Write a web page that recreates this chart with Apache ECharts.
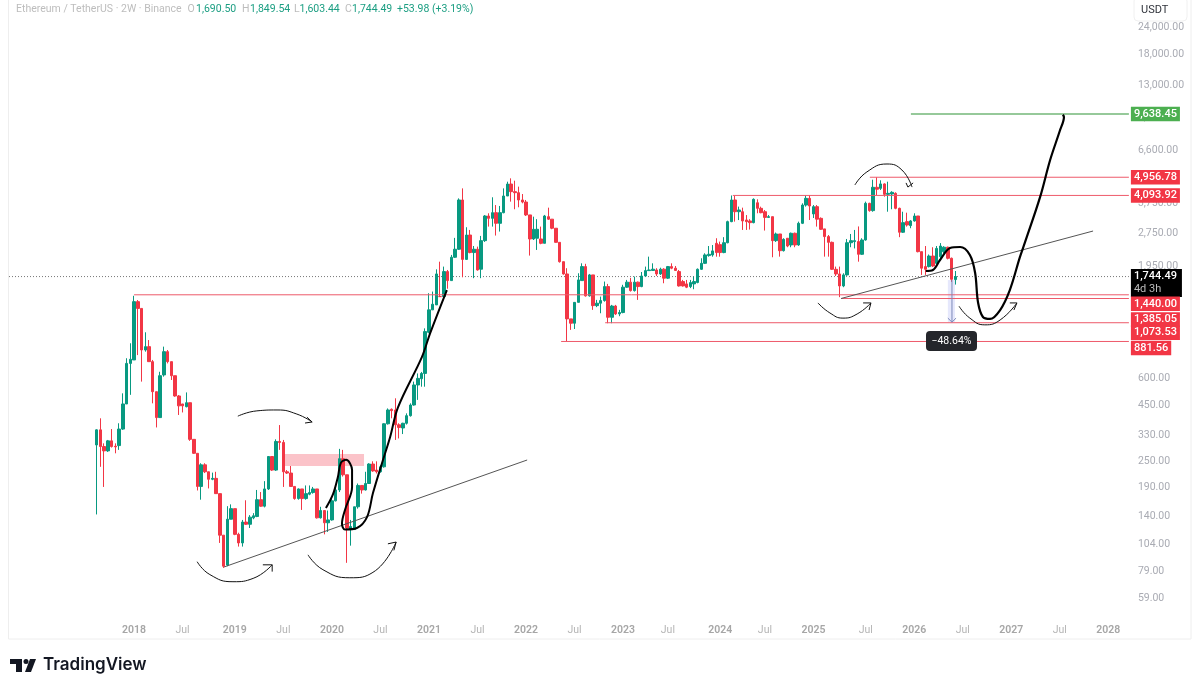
<!DOCTYPE html>
<html><head><meta charset="utf-8">
<style>html,body{margin:0;padding:0;background:#fff}#c{width:1200px;height:691px}</style>
<script src="https://cdn.jsdelivr.net/npm/echarts@6/dist/echarts.min.js"></script>
</head><body><div id="c"></div>
<script>
const opens=[297,348,292,279,310,293,295,351,457,700,726,1340,1248,806,835,713,520,396,620,792,713,615,497,457,444,463,315,272,192,241,224,207,209,178,115,84,136,152,116,106,132,129,138,140,167,156,187,263,228,308,305,224,221,192,169,187,169,177,180,187,138,149,131,135,165,185,257,217,122,122,155,194,185,198,243,228,224,236,371,432,429,367,355,373,404,452,558,596,630,971,1229,1295,1413,1413,1838,1672,2137,2325,3903,2090,2700,2245,2325,1885,2545,3298,3218,3415,3054,3415,4070,4615,4260,4215,3903,3820,3335,2590,2610,2590,2475,3275,3190,2900,2500,2040,1793,1118,1068,1330,1672,1937,1424,1775,1285,1318,1355,1570,1137,1280,1178,1195,1560,1645,1505,1645,1570,1755,1857,1860,1870,1793,1885,1715,1937,1905,1838,1655,1615,1570,1615,1640,1883,2005,2175,2190,2475,2440,2245,2490,3108,3903,3450,3450,3163,3130,3075,3790,3575,3450,3250,3275,2545,2730,2290,2610,2432,2750,2432,3054,3700,3970,3370,3638,3218,2880,2655,2500,1883,1793,1581,1775,2490,2520,2520,2205,2563,3768,3490,4460,4410,4620,4140,4155,4185,3575,2780,3108,2980,3130,3298,2267,1937,1937,2165,2005,2151,2267,2375,2114,1690.5];
const closes=[348,292,279,310,292,291,351,457,700,731,1340,1248,806,835,713,520,396,615,792,713,615,497,448,448,463,315,272,192,241,224,207,209,178,115,83,136,152,116,106,132,129,139,141,167,156,187,263,228,308,305,224,221,192,169,187,169,178,180,187,138,149,131,135,165,185,257,217,124,126,155,194,185,198,243,226,224,236,371,429,426,367,357,373,404,452,558,598,630,978,1229,1304,1793,1413,1838,1672,2137,2325,3903,2090,2700,2245,2325,1870,2545,3298,3218,3415,3054,3415,4070,4615,4260,4215,3903,3820,3335,2590,2868,2868,2475,3298,3190,2900,2500,2040,1793,1118,1068,1330,1684,1937,1424,1775,1285,1318,1355,1570,1137,1280,1178,1195,1560,1645,1505,1645,1570,1755,1857,1870,1885,1793,1885,1715,1937,1905,1860,1581,1581,1560,1637,1655,1883,2005,2190,2205,2285,2245,2245,2490,3108,3903,3450,3513,3130,3108,3075,3930,3575,3415,3250,3275,2545,2730,2290,2580,2405,2750,2432,3054,3700,3970,3665,3638,3190,2868,2655,2500,1883,1793,1581,1775,2490,2545,2545,2205,2563,3768,3490,4460,4370,4620,4140,4185,4230,3575,2780,3075,3000,3130,3298,2267,1905,1883,2165,1950,2345,2405,2375,2114,1695,1744.49];
const lows=[143,236,191,276,289,272,282,348,457,503,726,764,578,792,713,460,357,396,609,700,588,493,407,418,441,310,270,184,167,221,188,205,178,106,81.5,83,136,115,102,102,128,124,136,139,155,154,185,226,226,282,191,219,191,167,167,150,167,175,178,137,137,116,119,134,164,181,213,86,103,122,152,178,184,197,224,220,222,234,368,393,313,318,333,368,400,449,477,548,548,961,1229,1295,1413,1400,1535,1672,2120,2308,1732,2077,2228,1715,1857,1715,2510,2950,2950,2685,2800,3393,4070,3835,3540,3615,3768,3298,2175,2563,2308,2450,2475,3165,2870,2490,2020,1780,882,996,1005,1330,1672,1413,1413,1229,1265,1186,1340,1068,1068,1165,1150,1186,1550,1490,1490,1365,1560,1745,1857,1850,1755,1775,1626,1700,1885,1850,1570,1570,1545,1545,1527,1625,1870,1990,2150,2150,2150,2150,2230,2475,3090,3108,3160,2848,2848,2860,3054,3393,3393,2830,3230,2137,2510,2151,2270,2375,2375,2375,2410,3030,3640,3163,3230,2950,2848,2151,2151,1870,1755,1405,1560,1760,2375,2345,2040,2190,2545,3450,3450,4110,4335,4040,3450,3540,3540,2640,2760,2950,2900,3108,2250,1775,1775,1920,1930,1990,2100,2230,2090,1650,1603.44];
const highs=[350,393,302,313,351,302,373,511,739,865,1425,1363,1248,971,895,726,520,641,835,806,713,615,502,452,516,463,315,272,245,245,224,222,224,178,115,156,159,152,118,135,166,142,145,185,181,203,263,263,315,366,313,228,238,192,188,187,194,194,191,187,155,149,149,170,194,285,282,217,135,155,198,194,224,245,250,250,240,373,436,436,485,373,375,414,460,578,630,640,1012,1464,1490,1882,2040,1937,1870,2190,2620,3970,4410,2930,2848,2405,2390,2675,3330,3393,4015,3700,3665,4410,4730,4900,4780,4490,4155,3903,3335,3275,3190,2950,3335,3600,3190,2900,2500,2040,1905,1118,1335,1806,2005,1995,1793,1775,1365,1413,1655,1615,1295,1295,1229,1600,1684,1720,1744,1655,1830,1937,2151,2005,1905,1915,1905,1950,2005,1950,1870,1684,1684,1684,1744,1900,2114,2228,2405,2430,2610,2520,2640,3140,4093,4080,3640,3600,3330,3190,3970,3930,3638,3513,3330,3275,2770,2730,2610,2610,2770,2770,3108,3768,4093,4110,3700,3700,3250,2880,2700,2520,1937,1937,1806,2590,2730,2848,2955,2610,3835,3790,4830,4956.78,4800,4650,4730,4280,4230,3600,3450,3415,3160,3393,3298,2267,2405,2200,2375,2405,2480,2400,2390,2130,1849.54];

const xTickLabels=['2018','Jul','2019','Jul','2020','Jul','2021','Jul','2022','Jul','2023','Jul','2024','Jul','2025','Jul','2026','Jul','2027','Jul','2028'];
const xTickBars=[33,46,60,73,86,99,112,125,138,151,164,176,190,202,215,229,242,255,268,281,294];
const yTicks=[59,79,104,140,190,250,330,450,600,810,1050,1440,1950,2750,3750,5000,6600,9300,13000,18000,24000];

const levelNames=['9,638.45','4,956.78','4,093.92','1,440.00','1,385.05','1,073.53','881.56'];
const levelPrices=[9638.45,4956.78,4093.92,1440,1385.05,1073.53,881.56];
const levelStarts=[241.6,230.6,193.9,33.5,222.9,159.7,147.9];
const levelTagShift=[0,0,0,9,21,10,6.5];
const lastPrice=1744.49;

const trendLeft=[[57.6,82.3],[138.8,253.5]];
const trendRight=[[222.9,1385],[290.4,2816]];
const strokeLeft=[[84.9,153],[86.8,177],[88.1,212],[88.9,246],[90.3,254],[91.9,228],[91.9,191],[90,150],[89.2,130],[90,122],[93.2,124],[95.9,139],[97.5,179],[100.2,254],[102.1,323],[104.2,441],[110.6,748],[112.8,960],[117.3,1514]];
const strokeRight=[[245.6,1850],[247.5,1870],[249.4,2077],[252.1,2355],[254.8,2380],[257.4,2190],[258.8,1815],[259.6,1325],[260.9,1140],[262.8,1117],[265.5,1227],[268.1,1514],[270.8,2140],[272.2,2510],[276.2,4020],[278.9,5942],[281.5,8080],[282.6,9340],[282.3,9560]];
const arcs=[
 [[50.4,87],[53.8,76],[60,70.5],[65.4,73],[70.5,84.2]],
 [[61.3,402],[66.4,425],[71.8,429],[77.1,411],[81.2,378]],
 [[80.1,93.5],[84.1,80],[91.3,73.5],[97.5,77.8],[103.7,107]],
 [[216.7,1322],[219.9,1190],[223.4,1127],[227.2,1177],[230.9,1322]],
 [[226.6,4570],[229.8,5240],[235.2,5698],[239.2,5349],[241.9,4470]],
 [[254.5,1277],[257.4,1127],[261.4,1050],[265.5,1105],[270,1322]]
];
const arcHeads=[
 [[68,84.2],[70.5,84.2],[70.5,78.4]],
 [[79.8,398],[81.2,378],[79.3,374]],
 [[101.5,105],[103.7,107],[103.1,98]],
 [[228.8,1322],[230.9,1322],[230.4,1227]],
 [[240.3,4670],[240.8,4470],[242.2,4670]],
 [[268.1,1322],[270,1322],[269.2,1227]]
];
const zoneBars=[73.4,95.1];
const zonePrices=[270,238];
const measureBars=[251.5,253.4];
const measurePrices=[1682,1080];
const measureArrow=[[252.6,1682],[252.6,1080]];
const measureHead=[[251.5,1127],[252.6,1080],[253.7,1127]];
const measureText='\u221248.64%';
const headerTexts=['Ethereum / TetherUS \u00b7 2W \u00b7 Binance','O','1,690.50','H','1,849.54','L','1,603.44','C','1,744.49','+53.98 (+3.19%)'];

const FONT='Roboto';
const UP='#089981',DOWN='#f23645';
const PAD=23,BARS=300;
const categories=Array.from({length:BARS},(_,i)=>{const k=xTickBars.indexOf(i);return k>=0?xTickLabels[k]:''});
const candleData=Array.from({length:BARS},(_,i)=>{const j=i-PAD;return j>=0&&j<opens.length?[opens[j],closes[j],lows[j],highs[j]]:'-'});
const fmt=v=>Number(v).toLocaleString('en-US',{minimumFractionDigits:2,maximumFractionDigits:2});
const annotation=(data,color,width,smooth,z,extra)=>Object.assign({type:'line',xAxisIndex:1,yAxisIndex:0,data,symbol:'none',smooth:smooth||false,silent:true,animation:false,z:z||5,lineStyle:{color,width}},extra||{});

const series=[{
  type:'candlestick',xAxisIndex:0,yAxisIndex:0,data:candleData,barWidth:3,z:3,animation:false,silent:true,
  itemStyle:{color:UP,color0:DOWN,borderColor:UP,borderColor0:DOWN,borderWidth:1}
}];
series.push(annotation([],'#000',0,false,1,{markArea:{silent:true,animation:false,itemStyle:{color:'rgba(243,90,105,0.36)'},data:[[{coord:[zoneBars[0],zonePrices[0]]},{coord:[zoneBars[1],zonePrices[1]]}]]}}));
series.push(annotation([],'#000',0,false,1,{markArea:{silent:true,animation:false,itemStyle:{color:'rgba(130,140,240,0.2)'},data:[[{coord:[measureBars[0],measurePrices[0]]},{coord:[measureBars[1],measurePrices[1]]}]]}}));
levelPrices.forEach((p,i)=>{
  series.push(annotation([[levelStarts[i],p],[BARS,p]],i===0?'#2f9436':'#ee5a6a',i===0?1.2:1,false,4,{
    endLabel:{show:true,formatter:levelNames[i],distance:2,offset:[0,levelTagShift[i]],color:'#fff',fontFamily:FONT,fontSize:11,fontWeight:500,
      backgroundColor:i===0?'#4caf50':DOWN,padding:[1,3,1,3],lineHeight:12.5}
  }));
});
series.push(annotation([[0,lastPrice],[BARS,lastPrice]],'#777',1,false,2,{lineStyle:{color:'#777',width:1,type:[1,2]},
  endLabel:{show:true,distance:2,offset:[0,6.5],formatter:'{a|1,744.49}\n{b|4d 3h}',backgroundColor:'#000',padding:[1,5,1,3],
    rich:{a:{color:'#fff',fontFamily:FONT,fontSize:11,fontWeight:500,lineHeight:13},b:{color:'#bbb',fontFamily:FONT,fontSize:11,lineHeight:13}}}}));
series.push(annotation(trendLeft,'#555',1));
series.push(annotation(trendRight,'#555',1));
series.push(annotation(strokeLeft,'#000',2,0.35,6));
series.push(annotation(strokeRight,'#000',2.2,0.35,6));
arcs.forEach(a=>series.push(annotation(a,'#111',1,0.5,6)));
arcHeads.forEach(a=>series.push(annotation(a,'#111',1,false,6)));
series.push(annotation(measureArrow,'#7c88b8',1,false,5));
series.push(annotation(measureHead,'#7c88b8',1,false,5));

const G='#a9abb3',HG='#bdbdbd',V='#1b9e82';
const headerX=[16,187.5,196,242,250,294,299.5,345,352,397];
const headerColors=[HG,HG,V,HG,V,HG,V,HG,V,V];
const option={
  backgroundColor:'#fff',animation:false,
  grid:{left:9,top:0,width:1119.9,height:639,containLabel:false},
  xAxis:[{type:'category',data:categories,boundaryGap:true,position:'bottom',
      axisLine:{show:false},axisTick:{show:false},splitLine:{show:false},
      axisLabel:{inside:true,margin:3,hideOverlap:false,interval:(i)=>categories[i]!=='',fontFamily:FONT,
        formatter:v=>v==='Jul'?'{m|Jul}':'{y|'+v+'}',
        rich:{m:{color:'#b5b5b5',fontFamily:FONT,fontSize:10.5},y:{color:'#a6a6a6',fontFamily:FONT,fontSize:10.5,fontWeight:600}}}},
    {type:'value',min:0,max:BARS,show:false,splitLine:{show:false}}],
  yAxis:[{type:'log',logBase:10,min:38.6,max:31960,position:'right',
      axisLine:{show:false},axisTick:{show:false},splitLine:{show:false},minorTick:{show:false},minorSplitLine:{show:false},
      axisLabel:{customValues:yTicks,margin:9,color:G,fontFamily:FONT,fontSize:10.5,padding:[2,0,0,0],formatter:v=>fmt(v)}}],
  series,
  graphic:[
    {type:'rect',z:0,shape:{x:8.5,y:-2,width:1182.5,height:641},style:{fill:'none',stroke:'#eeeeee',lineWidth:1}},
    {type:'rect',z:50,shape:{x:1134,y:-3,width:53,height:24,r:4},style:{fill:'#fff',stroke:'#f0f0f0',lineWidth:1}},
    {type:'text',z:51,x:1141,y:5,style:{text:'USDT',fill:'#30333b',font:'11px '+FONT}},
    {type:'rect',z:50,shape:{x:926,y:331,width:51,height:20,r:4},style:{fill:'#24262b'}},
    {type:'text',z:51,x:951.5,y:341,style:{text:measureText,fill:'#fff',font:'10.5px '+FONT,textAlign:'center',textVerticalAlign:'middle'}},
    {type:'rect',z:50,shape:{x:10,y:659,width:12,height:5},style:{fill:'#131722'}},
    {type:'rect',z:50,shape:{x:16,y:659,width:6,height:13},style:{fill:'#131722'}},
    {type:'circle',z:50,shape:{cx:26,cy:661.5,r:2.5},style:{fill:'#131722'}},
    {type:'polygon',z:50,shape:{points:[[30,659],[36,659],[31,672],[25,672]]},style:{fill:'#131722'}},
    {type:'text',z:50,x:43,y:656,style:{text:'TradingView',fill:'#131722',font:'600 17px Inter'}}
  ].concat(headerTexts.map((t,i)=>({type:'text',z:50,x:headerX[i],y:3.5,style:{text:t,fill:headerColors[i],font:'10.5px '+FONT}})))
};
echarts.init(document.getElementById('c'),null,{renderer:'canvas'}).setOption(option);
</script></body></html>
